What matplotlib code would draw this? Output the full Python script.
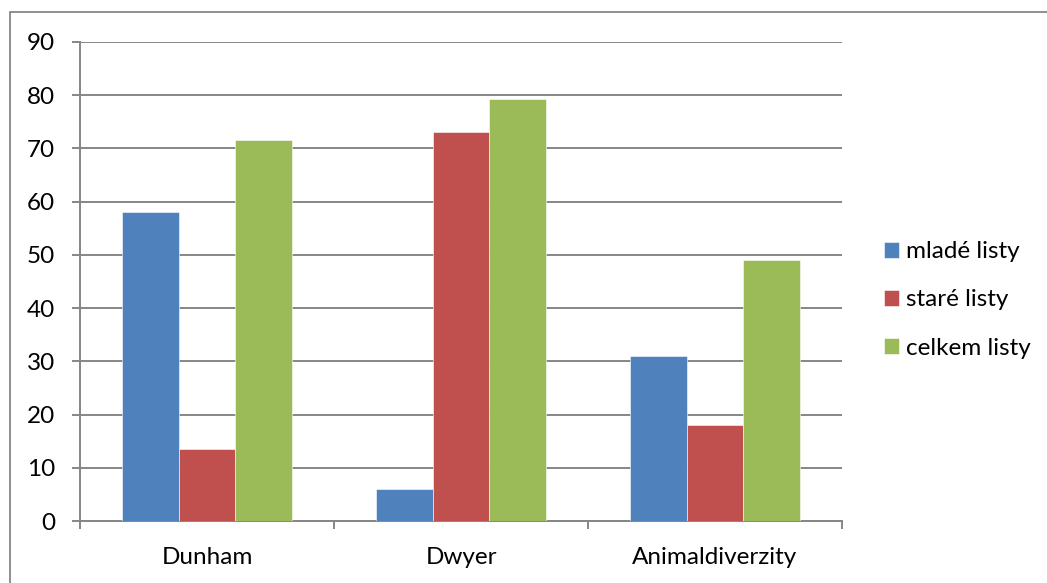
import matplotlib.pyplot as plt
from matplotlib.patches import Rectangle
import numpy as np

# Data
kategorie = ["Dunham", "Dwyer", "Animaldiverzity"]
serie = ["mladé listy", "staré listy", "celkem listy"]
mlade = [58, 6, 31]
stare = [13.5, 73, 18]
celkem = [71.5, 79.2, 49]
y_ticks = [0, 10, 20, 30, 40, 50, 60, 70, 80, 90]

barvy = ["#4F81BD", "#C0504D", "#9BBB59"]
seda = "#868686"

plt.rcParams["font.family"] = ["Lato", "DejaVu Sans"]

W, H = 1047, 583
fig = plt.figure(figsize=(W / 100, H / 100), dpi=100)

# outer chart frame (only left/top edges fall inside the image)
fig.patches.append(Rectangle((10 / W, -0.1), 1.2, (H - 12) / H + 0.1,
                             transform=fig.transFigure, fill=False,
                             edgecolor=seda, linewidth=1.3))

ax = fig.add_axes([80 / W, (H - 521) / H, 762 / W, 479 / H])

x = np.arange(len(kategorie))
sirka = 0.2224
for i, (hodnoty, nazev) in enumerate(zip([mlade, stare, celkem], serie)):
    ax.bar(x + (i - 1) * sirka, hodnoty, width=sirka, color=barvy[i],
           edgecolor="white", linewidth=0.4, label=nazev, zorder=3)

ax.set_xlim(-0.5, len(kategorie) - 0.5)
ax.set_ylim(0, 90)
ax.set_yticks(y_ticks)
ax.set_xticks(x)
ax.set_xticklabels(kategorie)
ax.set_xticks(np.arange(len(kategorie) + 1) - 0.5, minor=True)

ax.yaxis.grid(True, color=seda, linewidth=1.4, zorder=0)
for s in ["top", "right"]:
    ax.spines[s].set_visible(False)
for s in ["left", "bottom"]:
    ax.spines[s].set_color(seda)
    ax.spines[s].set_linewidth(1.4)

ax.tick_params(axis="y", length=6, width=1.4, color=seda, pad=12,
               labelsize=17.5)
ax.tick_params(axis="x", which="major", length=0, pad=19, labelsize=17.5)
ax.tick_params(axis="x", which="minor", length=6, width=1.4, color=seda)

ax.legend(loc="center left", bbox_to_anchor=(884 / W, (H - 300) / H),
          bbox_transform=fig.transFigure, frameon=False, fontsize=17.5,
          borderpad=0, borderaxespad=0, handlelength=0.62,
          handleheight=0.62, handletextpad=0.3, labelspacing=1.12)

fig.savefig("out.png", dpi=100)
